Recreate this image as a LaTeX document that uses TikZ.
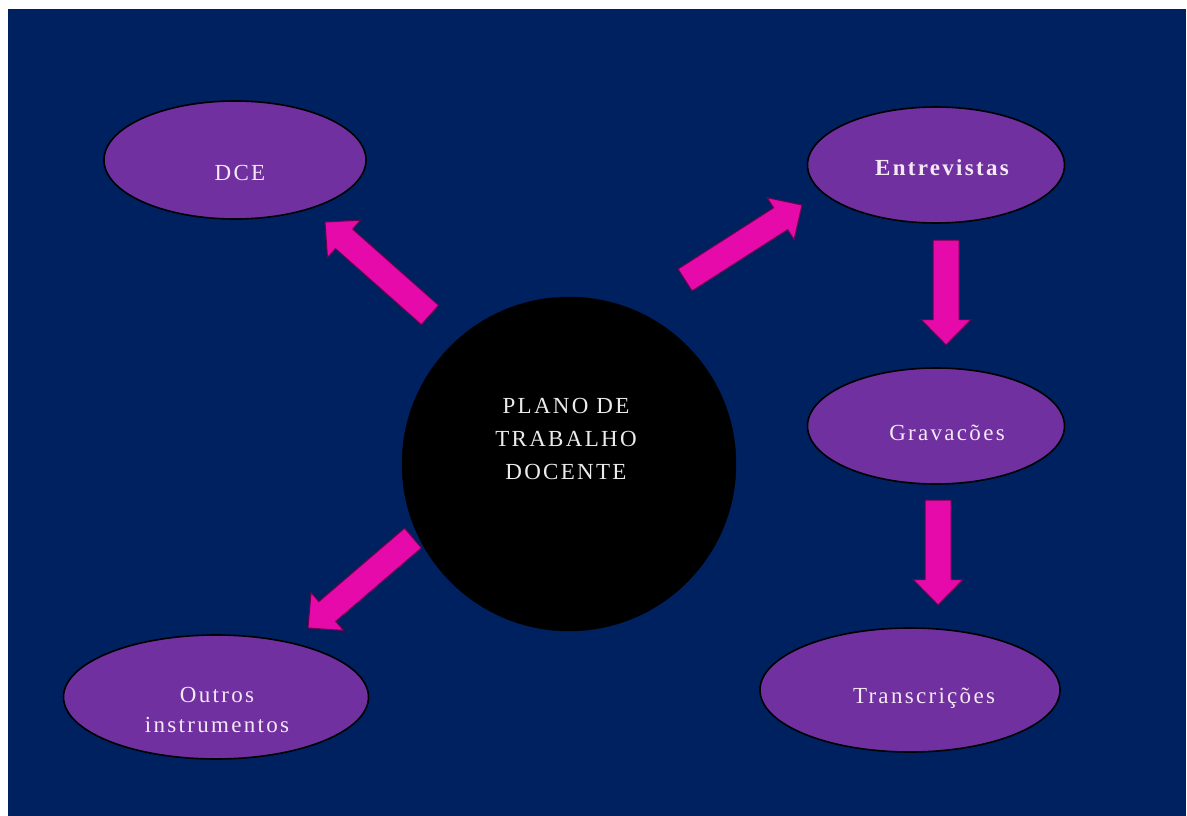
\documentclass[tikz,border=0pt]{standalone}
\usepackage{fontspec}
\setmainfont{Liberation Serif}
\newfontfamily\labfont{Liberation Serif}[LetterSpace=10]
\usetikzlibrary{shapes.geometric,shapes.arrows,calc}
\definecolor{bgblue}{RGB}{0,33,96}
\definecolor{ovpurple}{RGB}{112,48,160}
\definecolor{arrowpink}{RGB}{230,10,170}
\definecolor{txtcol}{RGB}{244,232,244}
\tikzset{
  oval/.style={ellipse, fill=ovpurple, draw=black, line width=1.6pt, inner sep=0pt},
  lab/.style={text=txtcol, font=\labfont\fontsize{23}{33}\selectfont, inner sep=0pt, align=center},
  barrow/.style={single arrow, fill=arrowpink, draw=black!55!arrowpink, line width=1pt,
    inner xsep=0pt, inner ysep=12.5pt, single arrow head extend=12pt,
    single arrow tip angle=89, single arrow head indent=0pt, outer sep=0pt},
}
\newcommand\blockarrow[3]{%
  \path let \p1=($(#3)-(#2)$) in
    node[barrow, anchor=tail, rotate={atan2(\y1,\x1)}, minimum height={veclen(\x1,\y1)}]
      (#1) at (#2) {};}
\begin{document}
\begin{tikzpicture}[x=1pt,y=1pt]
\useasboundingbox (0,0) rectangle (1187,-816);
\fill[white] (0,0) rectangle (1187,-816);
\fill[bgblue] (8,-9) rectangle (1186,-816);

% central circle
\node[circle, fill=black, draw=black, minimum size=334pt, inner sep=0pt] (plano) at (569,-464) {};
\node[lab, text=white!92!black] (planotxt) at (566,-439) {PLANO DE\\TRABALHO\\DOCENTE};

% ellipses
\node[oval, minimum width=262pt, minimum height=118pt] (dce) at (235,-160) {};
\node[oval, minimum width=257pt, minimum height=116pt] (entr) at (936,-165) {};
\node[oval, minimum width=257pt, minimum height=116pt] (grav) at (936,-426) {};
\node[oval, minimum width=300pt, minimum height=124pt] (trans) at (910,-690) {};
\node[oval, minimum width=305pt, minimum height=124pt] (outros) at (216,-697) {};

% labels
\node[lab, anchor=base] (dcetxt) at (240,-180) {DCE};
\node[lab, anchor=base, font=\labfont\bfseries\fontsize{23}{33}\selectfont] (entrtxt) at (942,-175) {Entrevistas};
\node[lab, anchor=base] (gravtxt) at (947,-440) {Gravacões};
\node[lab, anchor=base] (transtxt) at (924,-703) {Transcrições};
\node[lab, font=\labfont\fontsize{23}{30}\selectfont] (outrostxt) at (217,-710) {Outros\\instrumentos};

% arrow end points
\coordinate (t1) at (430,-315); \coordinate (h1) at (325,-222);
\coordinate (t2) at (685,-280); \coordinate (h2) at (802,-205);
\coordinate (t3) at (946,-240); \coordinate (h3) at (946,-345);
\coordinate (t4) at (938,-500); \coordinate (h4) at (938,-605);
\coordinate (t5) at (413,-538); \coordinate (h5) at (308,-628);

\blockarrow{a1}{t1}{h1}
\blockarrow{a2}{t2}{h2}
\blockarrow{a3}{t3}{h3}
\blockarrow{a4}{t4}{h4}
\blockarrow{a5}{t5}{h5}
\end{tikzpicture}
\end{document}
